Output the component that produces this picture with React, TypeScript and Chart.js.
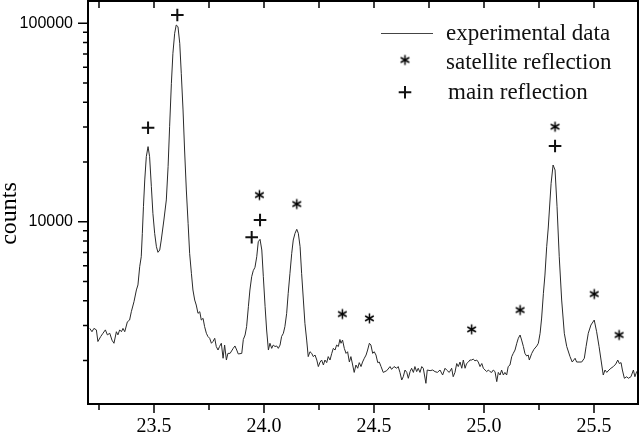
import React, { useEffect, useRef } from "react";
import { Chart, registerables } from "chart.js";

Chart.register(...registerables);

// 2θ positions (degrees) of the experimental scan
const twoTheta = [
  23.208, 23.218, 23.227, 23.238, 23.245, 23.258, 23.268, 23.279, 23.288, 23.299,
  23.309, 23.318, 23.329, 23.336, 23.344, 23.352, 23.359, 23.367, 23.379, 23.389,
  23.397, 23.409, 23.42, 23.427, 23.435, 23.442, 23.447, 23.452, 23.458, 23.465,
  23.473, 23.48, 23.488, 23.495, 23.503, 23.511, 23.518, 23.526, 23.533, 23.545,
  23.556, 23.564, 23.571, 23.579, 23.586, 23.594, 23.601, 23.609, 23.617, 23.624,
  23.632, 23.639, 23.647, 23.655, 23.662, 23.67, 23.677, 23.685, 23.692, 23.7,
  23.708, 23.715, 23.723, 23.73, 23.738, 23.745, 23.753, 23.761, 23.768, 23.776,
  23.783, 23.791, 23.798, 23.806, 23.814, 23.821, 23.829, 23.836,
  23.846, 23.86, 23.868, 23.876, 23.883, 23.899, 23.906, 23.914, 23.921, 23.929,
  23.936, 23.944, 23.951, 23.959, 23.967, 23.974, 23.982, 23.99, 23.997, 24.005,
  24.012, 24.02, 24.027, 24.035, 24.042, 24.05, 24.058, 24.065, 24.073, 24.08,
  24.088, 24.095, 24.103, 24.11, 24.118, 24.126, 24.133, 24.141, 24.149, 24.156,
  24.164, 24.171, 24.179, 24.186, 24.194, 24.201, 24.209, 24.217, 24.224, 24.232,
  24.24, 24.247, 24.255, 24.262, 24.27, 24.277, 24.285, 24.292, 24.3, 24.308,
  24.315, 24.323, 24.33, 24.338, 24.345, 24.35, 24.357, 24.365, 24.373, 24.38,
  24.388, 24.395, 24.403, 24.41, 24.418, 24.426, 24.433, 24.441, 24.448, 24.456,
  24.464, 24.471, 24.479, 24.486, 24.494, 24.501, 24.509, 24.517, 24.524, 24.532,
  24.542, 24.558, 24.573, 24.58, 24.591, 24.603, 24.61, 24.618, 24.626, 24.633,
  24.641, 24.649, 24.656, 24.664, 24.671, 24.679, 24.686, 24.694, 24.701, 24.709,
  24.717, 24.724, 24.736, 24.742, 24.755, 24.767, 24.777, 24.788, 24.8, 24.812,
  24.823, 24.83, 24.842, 24.853, 24.86, 24.868, 24.876, 24.883, 24.891, 24.899,
  24.906, 24.914, 24.921, 24.929, 24.936, 24.944, 24.951, 24.959, 24.967, 24.974,
  24.982, 24.99, 24.997, 25.005, 25.012, 25.02, 25.027, 25.035, 25.042, 25.05,
  25.058, 25.065, 25.073, 25.08, 25.088, 25.095, 25.103, 25.11, 25.118, 25.126,
  25.133, 25.141, 25.149, 25.156, 25.164, 25.171, 25.179, 25.186, 25.194, 25.201,
  25.206, 25.217, 25.227, 25.24, 25.247, 25.255, 25.262, 25.27, 25.277, 25.285,
  25.292, 25.305, 25.314, 25.323, 25.332, 25.342, 25.353, 25.365, 25.376, 25.391,
  25.401, 25.414, 25.421, 25.432, 25.444, 25.456, 25.464, 25.474, 25.486, 25.501,
  25.512, 25.523, 25.532, 25.542, 25.55, 25.558, 25.568, 25.577, 25.588, 25.599,
  25.608, 25.615, 25.623, 25.629, 25.638, 25.649, 25.656, 25.668, 25.679, 25.686,
  25.694, 25.705,
];

// measured counts at each 2θ position
const counts = [
  2900, 2790, 2900, 2850, 2490, 2640, 2740, 2850, 2690, 2740,
  2530, 2440, 2790, 2690, 2850, 2790, 2900, 2790, 3130, 3195,
  3520, 3950, 4530, 4800, 5930, 6660, 8740, 11900, 16230, 21270,
  23900, 21270, 15010, 11020, 8740, 7480, 7010, 7200, 8085, 10200,
  12870, 18930, 30110, 49840, 70620, 89060, 98000, 96130, 79290, 55980,
  36560, 22980, 14450, 9820, 6930, 5495, 4527, 4030, 3803, 3453,
  3520, 3195, 3260, 2960, 2740, 2640, 2585, 2440, 2490, 2585,
  2350, 2256, 2350, 2440, 2050, 2390, 2009, 2170,
  2171, 2300, 2365, 2256, 2155, 2170, 2550, 2686, 2960, 3730,
  4527, 5282, 5662, 5890, 6660, 7929, 8150, 7201, 5282, 3730,
  2846, 2256, 2440, 2300, 2390, 2350, 2365, 2300, 2390, 2640,
  2740, 2960, 3453, 4356, 5495, 6930, 8085, 8740, 9156, 8740,
  7480, 5495, 4030, 3077, 2533, 2090, 2212, 2170, 2090, 2129,
  2009, 1862, 1963, 2009, 1896, 2009, 1949, 2090, 2009, 2170,
  2300, 2256, 2390, 2350, 2550, 2440, 2533, 2300, 2170, 2212,
  1963, 2090, 1896, 1740, 1896, 1826, 1949, 1862, 1963, 2050,
  2129, 2256, 2440, 2390, 2170, 2212, 2129, 1949, 1963, 1862,
  1740, 1776, 1862, 1803, 1862, 1826, 1862, 1740, 1593, 1655,
  1789, 1740, 1625, 1756, 1826, 1740, 1862, 1756, 1826, 1740,
  1862, 1826, 1533, 1789, 1776, 1789, 1756, 1740, 1789, 1688,
  1826, 1789, 1740, 1826, 1655, 1740, 1929, 1862, 1963, 1826,
  2009, 1826, 1929, 1963, 2009, 2009, 2030, 1990, 2009, 1963,
  1862, 1929, 1826, 1789, 1756, 1789, 1756, 1740, 1789, 1756,
  1563, 1740, 1688, 1789, 1688, 1740, 1688, 1862, 1896, 2090,
  2170, 2256, 2440, 2585, 2686, 2533, 2350, 2170, 2104, 2129,
  2009, 2170, 2274, 2365, 2440, 2740, 3270, 4356, 5387, 7480,
  9295, 15610, 19310, 18220, 11900, 6660, 4030, 2740, 2350, 2090,
  1963, 2050, 1963, 1963, 1963, 2050, 2350, 2740, 3015, 3195,
  2790, 2350, 2009, 1688, 1789, 1740, 1789, 1826, 1862, 1918,
  2009, 1929, 1949, 1789, 1625, 1655, 1625, 1655, 1789, 1655,
  1756, 1740,
];

// "+" main reflection markers
const mainReflectionX = [23.473, 23.606, 23.944, 23.982, 25.323];
const mainReflectionY = [29770, 110100, 8344, 10200, 24070];

// "*" satellite reflection markers
const satelliteX = [23.979, 24.149, 24.356, 24.479, 24.944, 25.164, 25.323, 25.501, 25.614];
const satelliteY = [13630, 12280, 3426, 3259, 2869, 3588, 30110, 4322, 2686];

const seriesLabels = ["experimental data", "satellite reflection", "main reflection"];
const yAxisTitle = "counts";

const xTickValues = [23.5, 24.0, 24.5, 25.0, 25.5];
const xMinorTickValues = [23.25, 23.75, 24.25, 24.75, 25.25];
const yTickValues = [10000, 100000];
const xRange = [23.2, 25.7];
const yRange = [1206, 129500];

function makeAsterisk(r: number, color: string, lw: number): HTMLCanvasElement {
  const c = document.createElement("canvas");
  const s = Math.ceil(2 * r + 2 * lw + 2);
  c.width = s;
  c.height = s;
  const ctx = c.getContext("2d")!;
  ctx.strokeStyle = color;
  ctx.lineWidth = lw;
  const cx = s / 2;
  const cy = s / 2;
  for (const a of [90, 30, 150]) {
    const rad = (a * Math.PI) / 180;
    ctx.beginPath();
    ctx.moveTo(cx - r * Math.cos(rad), cy - r * Math.sin(rad));
    ctx.lineTo(cx + r * Math.cos(rad), cy + r * Math.sin(rad));
    ctx.stroke();
  }
  return c;
}

function drawPlus(ctx: CanvasRenderingContext2D, x: number, y: number, r: number) {
  ctx.beginPath();
  ctx.moveTo(x - r, y);
  ctx.lineTo(x + r, y);
  ctx.moveTo(x, y - r);
  ctx.lineTo(x, y + r);
  ctx.stroke();
}

function zeroPadding(s: any) {
  s.paddingTop = 0;
  s.paddingBottom = 0;
  s.paddingLeft = 0;
  s.paddingRight = 0;
}

export default function App() {
  const ref = useRef<HTMLCanvasElement | null>(null);

  useEffect(() => {
    if (!ref.current) return;
    const asterisk = makeAsterisk(5, "#000", 1.5);

    const framePlugin = {
      id: "frameAndLegend",
      afterDraw(chart: any) {
        const { ctx, chartArea: a, scales } = chart;
        const xs = scales.x;
        const ys = scales.y;
        ctx.save();
        ctx.strokeStyle = "#000";
        ctx.lineWidth = 2;
        ctx.strokeRect(a.left, a.top, a.right - a.left, a.bottom - a.top);

        ctx.lineWidth = 1.5;
        ctx.beginPath();
        for (const v of xTickValues) {
          const p = xs.getPixelForValue(v);
          ctx.moveTo(p, a.bottom);
          ctx.lineTo(p, a.bottom + 9);
          ctx.moveTo(p, a.top);
          ctx.lineTo(p, a.top + 7);
        }
        for (const v of xMinorTickValues) {
          const p = xs.getPixelForValue(v);
          ctx.moveTo(p, a.bottom);
          ctx.lineTo(p, a.bottom + 6);
          ctx.moveTo(p, a.top);
          ctx.lineTo(p, a.top + 7);
        }
        for (const v of yTickValues) {
          const p = ys.getPixelForValue(v);
          ctx.moveTo(a.left - 10, p);
          ctx.lineTo(a.left, p);
        }
        for (let d = 1000; d <= 100000; d *= 10) {
          for (let k = 2; k <= 9; k++) {
            const v = k * d;
            if (v <= yRange[0] || v >= yRange[1]) continue;
            const p = ys.getPixelForValue(v);
            ctx.moveTo(a.left - 5, p);
            ctx.lineTo(a.left, p);
          }
        }
        ctx.stroke();

        // legend
        const lx = a.right - 257;
        const symX = a.right - 233;
        const tx = a.right - 192;
        ctx.strokeStyle = "#444";
        ctx.lineWidth = 1;
        ctx.beginPath();
        ctx.moveTo(lx, a.top + 32.5);
        ctx.lineTo(lx + 52, a.top + 32.5);
        ctx.stroke();
        ctx.drawImage(asterisk, symX - asterisk.width / 2, a.top + 59 - asterisk.height / 2);
        ctx.strokeStyle = "#111";
        ctx.lineWidth = 2;
        drawPlus(ctx, symX, a.top + 91.3, 6.3);

        ctx.fillStyle = "#111";
        ctx.font = '23px "Liberation Serif"';
        ctx.textBaseline = "alphabetic";
        ctx.textAlign = "left";
        ctx.fillText(seriesLabels[0], tx, a.top + 38.5);
        ctx.fillText(seriesLabels[1], tx, a.top + 68);
        ctx.fillText(seriesLabels[2], tx + 2, a.top + 97.5);

        // y axis title
        ctx.translate(15.5, 213.5);
        ctx.rotate(-Math.PI / 2);
        ctx.textAlign = "center";
        ctx.font = '24px "Liberation Serif"';
        ctx.fillStyle = "#000";
        ctx.fillText(yAxisTitle, 0, 0);
        ctx.restore();
      },
    };

    const chart = new Chart(ref.current, {
      type: "scatter",
      data: {
        datasets: [
          {
            label: seriesLabels[0],
            data: twoTheta.map((x, i) => ({ x, y: counts[i] })),
            showLine: true,
            borderColor: "#2a2a2a",
            borderWidth: 1,
            pointRadius: 0,
            tension: 0,
          },
          {
            label: seriesLabels[1],
            data: satelliteX.map((x, i) => ({ x, y: satelliteY[i] })),
            showLine: false,
            pointStyle: asterisk as any,
            pointRadius: 5,
          },
          {
            label: seriesLabels[2],
            data: mainReflectionX.map((x, i) => ({ x, y: mainReflectionY[i] })),
            showLine: false,
            pointStyle: "cross",
            pointRadius: 6.3,
            pointBorderWidth: 2,
            pointBorderColor: "#111",
            pointBackgroundColor: "#111",
          },
        ],
      },
      options: {
        responsive: false,
        animation: false,
        events: [],
        layout: { autoPadding: false, padding: { top: 1, right: 2, left: 0, bottom: 0 } },
        plugins: { legend: { display: false }, tooltip: { enabled: false } },
        scales: {
          x: {
            type: "linear",
            min: xRange[0],
            max: xRange[1],
            grid: { display: false, drawTicks: false },
            border: { display: false },
            afterBuildTicks: (s: any) => {
              s.ticks = xTickValues.map((v) => ({ value: v }));
            },
            afterFit: (s: any) => {
              s.height = 32;
              zeroPadding(s);
            },
            ticks: {
              padding: 11,
              color: "#000",
              autoSkip: false,
              maxRotation: 0,
              font: { family: "Liberation Serif", size: 20 },
              callback: (v: any) => Number(v).toFixed(1),
            },
          },
          y: {
            type: "logarithmic",
            min: yRange[0],
            max: yRange[1],
            grid: { display: false, drawTicks: false },
            border: { display: false },
            afterBuildTicks: (s: any) => {
              s.ticks = yTickValues.map((v) => ({ value: v }));
            },
            afterFit: (s: any) => {
              s.width = 88;
              zeroPadding(s);
            },
            ticks: {
              padding: 15,
              color: "#000",
              autoSkip: false,
              font: { family: "Liberation Sans", size: 16 },
              callback: (v: any) => String(v),
            },
          },
        },
      } as any,
      plugins: [framePlugin],
    });
    return () => chart.destroy();
  }, []);

  return (
    <div style={{ position: "fixed", left: 0, top: 0, width: 640, height: 436, background: "#fff" }}>
      <canvas ref={ref} width={640} height={436} style={{ display: "block" }} />
    </div>
  );
}
